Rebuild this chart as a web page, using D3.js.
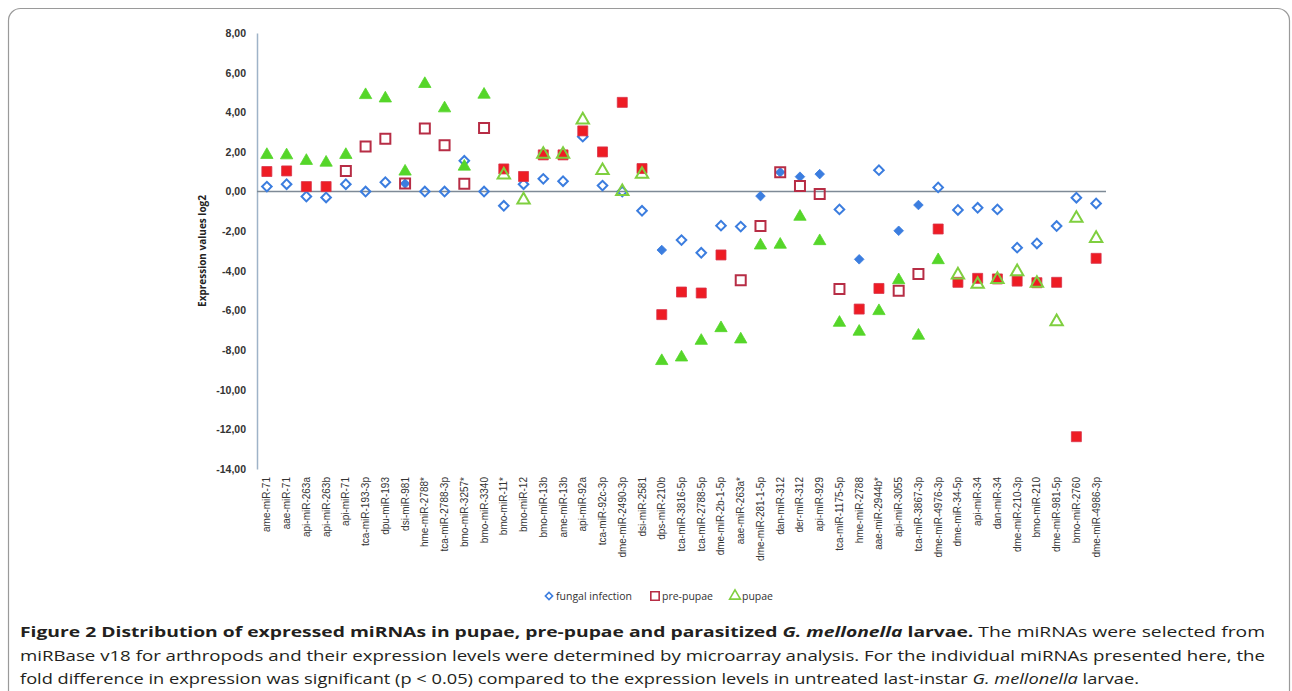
<!DOCTYPE html>
<html>
<head>
<meta charset="utf-8">
<script src="https://cdn.jsdelivr.net/npm/d3@7"></script>
<style>
  body { margin: 0; background: #fff; }
  #graf { width: 1292px; height: 691px; }
</style>
</head>
<body>
<div id="graf"></div>
<script>
const categories = [
  "ame-miR-71", "aae-miR-71", "api-miR-263a", "api-miR-263b", "api-miR-71",
  "tca-miR-193-3p", "dpu-miR-193", "dsi-miR-981", "hme-miR-2788*", "tca-miR-2788-3p",
  "bmo-miR-3257*", "bmo-miR-3340", "bmo-miR-11*", "bmo-miR-12", "bmo-miR-13b",
  "ame-miR-13b", "api-miR-92a", "tca-miR-92c-3p", "dme-miR-2490-3p", "dsi-miR-2581",
  "dps-miR-210b", "tca-miR-3816-5p", "tca-miR-2788-5p", "dme-miR-2b-1-5p", "aae-miR-263a*",
  "dme-miR-281-1-5p", "dan-miR-312", "der-miR-312", "api-miR-929", "tca-miR-1175-5p",
  "hme-miR-2788", "aae-miR-2944b*", "api-miR-3055", "tca-miR-3867-3p", "dme-miR-4976-3p",
  "dme-miR-34-5p", "api-miR-34", "dan-miR-34", "dme-miR-210-3p", "bmo-miR-210",
  "dme-miR-981-5p", "bmo-miR-2760", "dme-miR-4986-3p"
];

// fungal infection
const fungal = [
  0.25, 0.37, -0.25, -0.30, 0.37, 0.00, 0.47, 0.40, 0.00, 0.00,
  1.55, 0.00, -0.72, 0.37, 0.64, 0.52, 2.77, 0.30, 0.00, -0.97,
  -2.95, -2.45, -3.09, -1.72, -1.77, -0.23, 0.97, 0.75, 0.88, -0.90,
  -3.42, 1.08, -1.98, -0.68, 0.21, -0.93, -0.82, -0.90, -2.83, -2.62,
  -1.74, -0.31, -0.60
];
const fungalFilled = [
  0, 0, 0, 0, 0, 0, 0, 1, 0, 0,
  0, 0, 0, 0, 0, 0, 0, 0, 0, 0,
  1, 0, 0, 0, 0, 1, 1, 1, 1, 0,
  1, 0, 1, 1, 0, 0, 0, 0, 0, 0,
  0, 0, 0
];

// pre-pupae
const prePupae = [
  1.01, 1.04, 0.25, 0.25, 1.04, 2.27, 2.67, 0.40, 3.18, 2.34,
  0.39, 3.21, 1.14, 0.76, 1.85, 1.85, 3.06, 2.00, 4.50, 1.16,
  -6.21, -5.07, -5.12, -3.20, -4.47, -1.74, 0.97, 0.28, -0.13, -4.92,
  -5.93, -4.89, -5.00, -4.16, -1.89, -4.58, -4.38, -4.41, -4.52, -4.60,
  -4.58, -12.37, -3.37
];
const prePupaeFilled = [
  1, 1, 1, 1, 0, 0, 0, 0, 0, 0,
  0, 0, 1, 1, 1, 1, 1, 1, 1, 1,
  1, 1, 1, 1, 0, 0, 0, 0, 0, 0,
  1, 1, 0, 0, 1, 1, 1, 1, 1, 1,
  1, 1, 1
];

// pupae
const pupae = [
  1.85, 1.83, 1.55, 1.46, 1.85, 4.87, 4.70, 1.01, 5.43, 4.20,
  1.26, 4.89, 0.84, -0.42, 1.88, 1.88, 3.61, 1.06, 0.00, 0.87,
  -8.55, -8.37, -7.53, -6.89, -7.46, -2.72, -2.68, -1.27, -2.50, -6.62,
  -7.07, -6.03, -4.47, -7.27, -3.46, -4.21, -4.68, -4.43, -4.04, -4.63,
  -6.57, -1.35, -2.36
];
const pupaeFilled = [
  1, 1, 1, 1, 1, 1, 1, 1, 1, 1,
  1, 1, 0, 0, 0, 0, 0, 0, 0, 0,
  1, 1, 1, 1, 1, 1, 1, 1, 1, 1,
  1, 1, 1, 1, 1, 0, 0, 0, 0, 0,
  0, 0, 0
];

const yTicks = [8, 6, 4, 2, 0, -2, -4, -6, -8, -10, -12, -14];

const seriesNames = ["fungal infection", "pre-pupae", "pupae"];

const graf = d3.select("#graf");
const ancho_total = 1292;
const alto_total = 691;

const svg = graf
  .append("svg")
  .attr("width", ancho_total)
  .attr("height", alto_total)
  .style("font-family", "'Open Sans', sans-serif");

// frame round the figure
svg
  .append("rect")
  .attr("x", 8.5)
  .attr("y", 8.5)
  .attr("width", 1281)
  .attr("height", 730)
  .attr("rx", 12)
  .attr("fill", "none")
  .attr("stroke", "#9a9a9a")
  .attr("stroke-width", 1.2);

const plot = { left: 257, right: 1106, top: 33, bottom: 469 };

const x = d3.scaleBand().domain(categories).range([plot.left, plot.right]);
const y = d3.scaleLinear().domain([-14, 8]).range([plot.bottom, plot.top]);

const fmt = (v) => d3.format(".2f")(v).replace(".", ",").replace("−", "-");

// y axis
const yAxis = svg
  .append("g")
  .attr("transform", `translate(${plot.left},0)`)
  .call(d3.axisLeft(y).tickValues(yTicks).tickSize(0).tickPadding(11).tickFormat(fmt));
yAxis.select(".domain").attr("stroke", "#9fb3c8").attr("stroke-width", 1.5);
yAxis.selectAll("text").style("font-size", "10.5px").style("font-weight", "600").style("fill", "#333");

svg
  .append("text")
  .attr("transform", `translate(206,251) rotate(-90)`)
  .attr("text-anchor", "middle")
  .style("font-size", "10px")
  .style("font-weight", "bold")
  .style("fill", "#222")
  .text("Expression values log2");

// zero line
svg
  .append("line")
  .attr("x1", plot.left)
  .attr("x2", plot.right)
  .attr("y1", y(0))
  .attr("y2", y(0))
  .attr("stroke", "#7e8a96")
  .attr("stroke-width", 1.5);

// category labels
const xAxis = svg
  .append("g")
  .attr("transform", `translate(0,477)`)
  .call(d3.axisBottom(x).tickSize(0));
xAxis.select(".domain").remove();
xAxis
  .selectAll("text")
  .attr("transform", "rotate(-90)")
  .attr("text-anchor", "end")
  .attr("x", 0)
  .attr("y", 0)
  .attr("dy", "0.35em")
  .style("font-size", "10px")
  .style("fill", "#333");

// markers
const styles = [
  { type: d3.symbolSquare, size: 46, rot: 45, fill: "#3b7ddf", stroke: "#3b7ddf", edge: "#3b7ddf" },
  { type: d3.symbolSquare, size: 100, rot: 0, fill: "#ee1c24", stroke: "#b72d45", edge: "#d8344a" },
  { type: d3.symbolTriangle, size: 66, rot: 0, fill: "#55d629", stroke: "#7fcf3f", edge: "#55d629" },
];

const rows = [
  { values: fungal, filled: fungalFilled, st: styles[0] },
  { values: prePupae, filled: prePupaeFilled, st: styles[1] },
  { values: pupae, filled: pupaeFilled, st: styles[2] },
];

rows.forEach((r, k) => {
  const data = categories.map((c, i) => ({ c, v: r.values[i], f: r.filled[i] }));
  svg
    .append("g")
    .attr("class", "serie" + k)
    .selectAll("path")
    .data(data)
    .enter()
    .append("path")
    .attr("d", d3.symbol().type(r.st.type).size(r.st.size)())
    .attr("transform", (d) => `translate(${x(d.c) + x.bandwidth() / 2},${y(d.v)}) rotate(${r.st.rot})`)
    .attr("fill", (d) => (d.f ? r.st.fill : "none"))
    .attr("stroke", (d) => (d.f ? r.st.edge : r.st.stroke))
    .attr("stroke-width", (d) => (d.f ? 0.8 : 2));
});

// legend
const legend = svg.append("g").attr("transform", "translate(0,596)");
const legendX = [549, 655, 735];
const legendSize = [26, 70, 50];
rows.forEach((r, k) => {
  legend
    .append("path")
    .attr("d", d3.symbol().type(r.st.type).size(legendSize[k])())
    .attr("transform", `translate(${legendX[k]},0) rotate(${r.st.rot})`)
    .attr("fill", "none")
    .attr("stroke", r.st.stroke)
    .attr("stroke-width", 1.6);
  legend
    .append("text")
    .attr("x", legendX[k] + 7)
    .attr("y", 0)
    .attr("dy", "0.35em")
    .style("font-size", "10.5px")
    .style("fill", "#333")
    .text(seriesNames[k]);
});

// caption
const cap = svg
  .append("g")
  .style("font-size", "15px")
  .style("fill", "#231f20")
  .style("font-family", "'Open Sans', sans-serif");

const l1 = cap.append("text").attr("x", 20).attr("y", 637).attr("textLength", 1245).attr("lengthAdjust", "spacingAndGlyphs");
l1.append("tspan").style("font-weight", "bold").text("Figure 2 Distribution of expressed miRNAs in pupae, pre-pupae and parasitized ");
l1.append("tspan").style("font-weight", "bold").style("font-style", "italic").text("G. mellonella");
l1.append("tspan").style("font-weight", "bold").text(" larvae.");
l1.append("tspan").text(" The miRNAs were selected from");

cap
  .append("text")
  .attr("x", 20)
  .attr("y", 661)
  .attr("textLength", 1245)
  .attr("lengthAdjust", "spacingAndGlyphs")
  .text("miRBase v18 for arthropods and their expression levels were determined by microarray analysis. For the individual miRNAs presented here, the");

const l3 = cap.append("text").attr("x", 20).attr("y", 684).attr("textLength", 1119).attr("lengthAdjust", "spacingAndGlyphs");
l3.append("tspan").text("fold difference in expression was significant (p < 0.05) compared to the expression levels in untreated last-instar ");
l3.append("tspan").style("font-style", "italic").text("G. mellonella");
l3.append("tspan").text(" larvae.");
</script>
</body>
</html>
